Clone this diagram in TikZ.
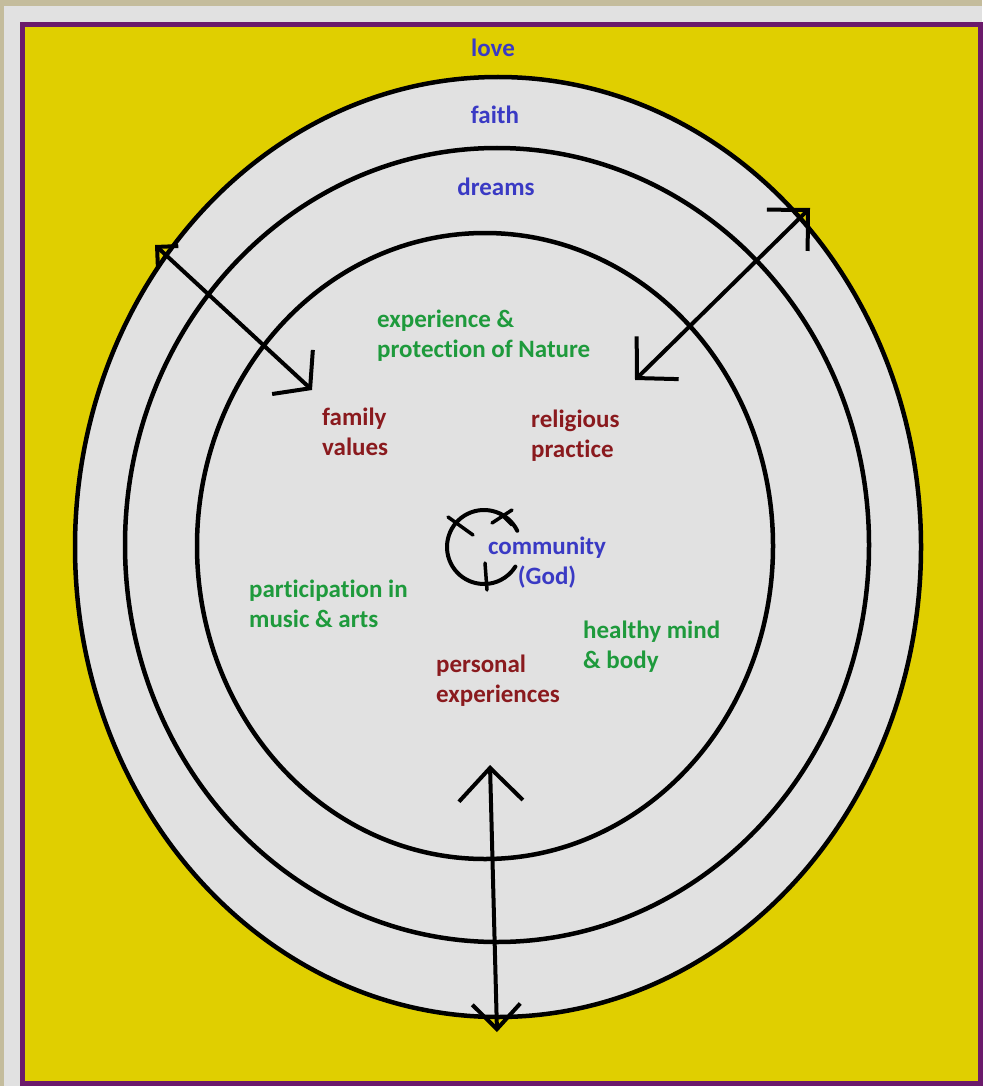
\documentclass[tikz,border=0pt]{standalone}
\usepackage{fontspec}
\setmainfont[Ligatures=NoCommon]{Carlito}
\usetikzlibrary{arrows.meta}
\definecolor{sand}{HTML}{C4BC9C}
\definecolor{paper}{HTML}{E1E1E1}
\definecolor{yel}{HTML}{E0CF00}
\definecolor{purp}{HTML}{6B1A6B}
\definecolor{ringblue}{HTML}{3A3AC4}
\definecolor{natgreen}{HTML}{1E9A3C}
\definecolor{deepred}{HTML}{8A1A1E}

\begin{document}
\begin{tikzpicture}[x=1pt,y=-1pt, ring/.style={draw=black,line width=4.5pt,fill=paper},
  lbl/.style={font=\bfseries\fontsize{25}{30}\selectfont,inner sep=0pt,align=left,anchor=base west},
  hand/.style={line width=4pt,line cap=round,line join=round}]
\useasboundingbox (0,0) rectangle (982,1086);
\fill[sand] (0,0) rectangle (982,1086);
\fill[paper] (4,6) rectangle (982,1086);
\draw[purp,line width=5pt,fill=yel] (22,25) rectangle (980,1083);
% the three rings
\draw[ring] (498,547) ellipse [x radius=423, y radius=470];
\draw[ring] (497,545) ellipse [x radius=372, y radius=397];
\draw[ring] (485,546) ellipse [x radius=288, y radius=313];
% ring labels
\node[lbl,anchor=base,ringblue] (love) at (493,57) {love};
\node[lbl,anchor=base,ringblue] (faith) at (495,124) {faith};
\node[lbl,anchor=base,ringblue] (dreams) at (496,196) {dreams};
% inner labels (base = last line)
\node[lbl,natgreen] (nature) at (377,357) {experience \&\\protection of Nature};
\node[lbl,deepred] (family) at (322,455) {family\\values};
\node[lbl,deepred] (relig) at (531,457) {religious\\practice};
\node[lbl,align=center,anchor=base,ringblue] (comm) at (547,584) {community\\(God)};
\node[lbl,natgreen] (music) at (249,627) {participation in\\music \& arts};
\node[lbl,natgreen] (health) at (583,668) {healthy mind\\\& body};
\node[lbl,deepred] (pers) at (436,702) {personal\\experiences};
% hand drawn arrows
\coordinate (nwo) at (155,245); \coordinate (nwi) at (312,390);
\coordinate (neo) at (810,208); \coordinate (nei) at (635,380);
\coordinate (si) at (490,765); \coordinate (so) at (497,1032);
\draw[hand,{Straight Barb[length=15pt,width=30pt]}-{Straight Barb[length=24pt,width=60pt]}] (nwo) -- (nwi);
\draw[hand,{Straight Barb[length=29pt,width=58pt]}-{Straight Barb[length=29pt,width=60pt]}] (neo) -- (nei);
\draw[hand,{Straight Barb[length=33pt,width=64pt]}-{Straight Barb[length=25pt,width=48pt]}] (si) -- (so);
% cycle around community
\draw[hand] (484,547) ++(-26:37) arc[start angle=-26,end angle=-328,radius=37];
\draw[hand,line width=3.5pt] (448,517) -- (473,535);
\draw[hand,line width=3.5pt] (492,523) -- (512,510);
\draw[hand,line width=3.5pt] (500,513) -- (512,525);
\draw[hand,line width=3.5pt] (485,563) -- (487,590);
\end{tikzpicture}
\end{document}
